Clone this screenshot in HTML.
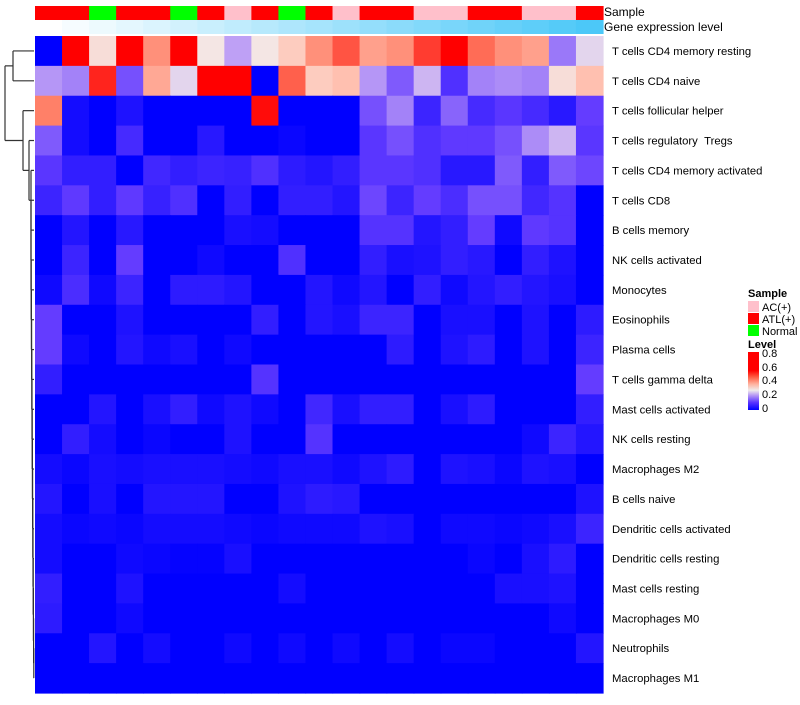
<!DOCTYPE html>
<html><head><meta charset="utf-8"><style>
body{margin:0;background:#fff;font-family:"Liberation Sans",sans-serif}
svg text{font-family:"Liberation Sans",sans-serif}
</style></head><body>
<svg id="chart" width="800" height="700" viewBox="0 0 800 700" xmlns="http://www.w3.org/2000/svg">
<g id="dendro" stroke="#333" stroke-width="1.2" fill="none"></g>
<g id="cells"></g>
<g id="annot"></g>
<g id="labels" font-size="11.3" fill="#000"></g>
<text x="604" y="16" font-size="12">Sample</text>
<text x="604" y="31" font-size="12">Gene expression level</text>
<g font-size="11">
<text x="748" y="297" font-weight="bold">Sample</text>
<rect x="748" y="301" width="11" height="11" fill="#FFC0CB"/>
<text x="762" y="311">AC(+)</text>
<rect x="748" y="313" width="11" height="11" fill="#FF0000"/>
<text x="762" y="323">ATL(+)</text>
<rect x="748" y="325" width="11" height="11" fill="#00FF00"/>
<text x="762" y="335">Normal</text>
<text x="748" y="348" font-weight="bold">Level</text>
<defs><linearGradient id="lg" x1="0" y1="1" x2="0" y2="0">
<stop offset="0" stop-color="#0000FF"/><stop offset="0.13" stop-color="#5A34FF"/><stop offset="0.25" stop-color="#B496F5"/><stop offset="0.34" stop-color="#F0EBEB"/><stop offset="0.45" stop-color="#FFB09C"/><stop offset="0.57" stop-color="#FF5A40"/><stop offset="0.68" stop-color="#FF0000"/><stop offset="1" stop-color="#FF0000"/>
</linearGradient></defs>
<rect x="748" y="352" width="11" height="58" fill="url(#lg)"/>
<text x="762" y="357">0.8</text>
<text x="762" y="371">0.6</text>
<text x="762" y="384">0.4</text>
<text x="762" y="398">0.2</text>
<text x="762" y="412">0</text>
</g>
</svg>
<script>
const rowNames=["T cells CD4 memory resting","T cells CD4 naive","T cells follicular helper","T cells regulatory\u00a0\u00a0Tregs","T cells CD4 memory activated","T cells CD8","B cells memory","NK cells activated","Monocytes","Eosinophils","Plasma cells","T cells gamma delta","Mast cells activated","NK cells resting","Macrophages M2","B cells naive","Dendritic cells activated","Dendritic cells resting","Mast cells resting","Macrophages M0","Neutrophils","Macrophages M1"];
const sampleGroups=["ATL","ATL","Normal","ATL","ATL","Normal","ATL","AC","ATL","Normal","ATL","AC","ATL","ATL","AC","AC","ATL","ATL","AC","AC","ATL"];
const geneLevel=[0,1,2,3,4,5,6,7,8,9,10,11,12,13,14,15,16,17,18,19,20];
const r1=[0,0.6,0.3,0.6,0.42,0.6,0.28,0.2,0.28,0.34,0.42,0.48,0.40,0.42,0.5,0.6,0.46,0.42,0.40,0.16,0.25];
const r2=[0.19,0.17,0.52,0.12,0.39,0.25,0.6,0.6,0,0.47,0.34,0.36,0.19,0.13,0.22,0.08,0.17,0.18,0.17,0.3,0.36];
const r3=[0.44,0.02,0,0.03,0,0,0,0,0.54,0,0,0,0.12,0.17,0.06,0.14,0.07,0.09,0.07,0.04,0.1];
const r4=[0.13,0.02,0,0.07,0,0,0.04,0,0,0.01,0,0,0.09,0.12,0.08,0.095,0.095,0.12,0.18,0.22,0.09];
const r5=[0.09,0.05,0.05,0,0.065,0.05,0.06,0.055,0.08,0.045,0.035,0.05,0.09,0.09,0.08,0.04,0.04,0.13,0.05,0.13,0.11];
const r6=[0.06,0.095,0.05,0.095,0.055,0.08,0,0.05,0,0.05,0.05,0.035,0.11,0.06,0.1,0.075,0.12,0.12,0.065,0.085,0];
const r7=[0,0.035,0,0.04,0,0,0,0.025,0.02,0,0,0,0.085,0.085,0.035,0.05,0.1,0.015,0.095,0.085,0];
const r8=[0,0.06,0,0.1,0,0,0.015,0,0,0.08,0,0,0.05,0.025,0.03,0.05,0.04,0,0.05,0.03,0];
const r9=[0.015,0.075,0.015,0.06,0,0.045,0.045,0.035,0,0,0.035,0.015,0.035,0,0.05,0.015,0.035,0.05,0.035,0.025,0];
const r10=[0.1,0,0,0.03,0,0,0,0,0.05,0,0.035,0.025,0.06,0.06,0,0.025,0.025,0,0.03,0,0.045];
const r11=[0.1,0.015,0,0.035,0.015,0.025,0,0.015,0,0,0,0,0,0.045,0,0.03,0.045,0,0.03,0,0.06];
const r12=[0.05,0,0,0,0,0,0,0,0.085,0,0,0,0,0,0,0,0,0,0,0,0.1];
const r13=[0,0,0.035,0,0.025,0.05,0.015,0.03,0.015,0,0.065,0.025,0.05,0.05,0,0.025,0.045,0,0,0,0.05];
const r14=[0,0.05,0.02,0,0.01,0,0,0.03,0,0,0.085,0,0,0,0,0,0,0,0.015,0.06,0.035];
const r15=[0.02,0.01,0.025,0.02,0.025,0.025,0.025,0.02,0.015,0.025,0.025,0.015,0.03,0.045,0,0.03,0.025,0.01,0.03,0.025,0];
const r16=[0.035,0,0.025,0,0.035,0.035,0.035,0,0,0.03,0.045,0.04,0,0,0,0,0,0,0,0,0.03];
const r17=[0.02,0.01,0.015,0.01,0.02,0.02,0.02,0.015,0.01,0.015,0.015,0.015,0.03,0.025,0,0.015,0.015,0.01,0.015,0.025,0.06];
const r18=[0.02,0,0,0.015,0.01,0.005,0.005,0.025,0,0,0,0,0,0,0,0,0.01,0,0.025,0.045,0];
const r19=[0.05,0,0,0.03,0,0,0,0,0,0.02,0,0,0,0,0,0,0,0.025,0.025,0.03,0];
const r20=[0.045,0,0,0.015,0,0,0,0,0,0,0,0,0,0,0,0,0,0,0,0.015,0];
const r21=[0,0,0.035,0,0.02,0,0,0.015,0,0.015,0,0.015,0,0.02,0,0.01,0.01,0,0,0,0.035];
const r22=[0,0,0,0,0,0,0,0,0,0,0,0,0,0,0,0,0,0,0,0,0];
const values=[r1,r2,r3,r4,r5,r6,r7,r8,r9,r10,r11,r12,r13,r14,r15,r16,r17,r18,r19,r20,r21,r22];

const NS="http://www.w3.org/2000/svg";
const X0=35,X1=603,Y0=36,Y1=693;
const nc=sampleGroups.length,nr=rowNames.length;
const cw=(X1-X0)/nc,rh=(Y1-Y0)/nr;
const xPos=i=>X0+i*cw, yPos=j=>Y0+j*rh;
const stops=[[0,[0,0,255]],[0.1,[100,60,255]],[0.2,[190,160,245]],[0.27,[242,234,234]],[0.35,[255,200,185]],[0.45,[255,120,95]],[0.55,[255,0,0]]];
function colorOf(v){
  if(v<=0)return "rgb(0,0,255)";
  for(let k=1;k<stops.length;k++){
    if(v<=stops[k][0]){const a=stops[k-1],b=stops[k],t=(v-a[0])/(b[0]-a[0]);
      const c=a[1].map((x,i)=>Math.round(x+(b[1][i]-x)*t));return `rgb(${c})`;}
  }
  return "rgb(255,0,0)";
}
const cells=document.getElementById('cells');
values.forEach((row,j)=>row.forEach((v,i)=>{
  const r=document.createElementNS(NS,'rect');
  r.setAttribute('x',xPos(i));r.setAttribute('y',yPos(j));
  r.setAttribute('width',cw+0.6);r.setAttribute('height',rh+0.6);
  r.setAttribute('fill',colorOf(v));
  
  
  cells.appendChild(r);
}));
const annot=document.getElementById('annot');
const gcol={ATL:"#FF0000",AC:"#FFC0CB",Normal:"#00FF00"};
const gmax=Math.max(...geneLevel);
sampleGroups.forEach((g,i)=>{
  const r=document.createElementNS(NS,'rect');
  r.setAttribute('x',xPos(i));r.setAttribute('y',6);r.setAttribute('width',cw+0.6);r.setAttribute('height',14);
  r.setAttribute('fill',gcol[g]);
  
  
  annot.appendChild(r);
  const t=geneLevel[i]/gmax;
  const c=[255+(76-255)*t,255+(200-255)*t,255+(248-255)*t].map(Math.round);
  const q=document.createElementNS(NS,'rect');
  q.setAttribute('x',xPos(i));q.setAttribute('y',20);q.setAttribute('width',cw+0.6);q.setAttribute('height',14);
  q.setAttribute('fill',`rgb(${c})`);
  
  
  annot.appendChild(q);
});
const labels=document.getElementById('labels');
rowNames.forEach((n,j)=>{
  const t=document.createElementNS(NS,'text');
  t.setAttribute('x',612);t.setAttribute('y',yPos(j)+rh/2+4);
  t.textContent=n;
  
  
  labels.appendChild(t);
});
const dg=document.getElementById('dendro');
function seg(x1,y1,x2,y2){const l=document.createElementNS(NS,'line');
  l.setAttribute('x1',x1);l.setAttribute('y1',y1);l.setAttribute('x2',x2);l.setAttribute('y2',y2);
  
  
  dg.appendChild(l);}
const cy=j=>yPos(j)+rh/2;
seg(34,cy(0),13,cy(0));seg(34,cy(1),13,cy(1));seg(13,cy(0),13,cy(1));
const ytop=(cy(0)+cy(1))/2;
let cur=cy(21),cx=34;
for(let j=20;j>=4;j--){
  const nx=Math.max(31,34-(21-j)*0.2);
  seg(34,cy(j),nx,cy(j));seg(cx,cur,nx,cur);seg(nx,cy(j),nx,cur);
  cur=(cy(j)+cur)/2;cx=nx;
}
seg(34,cy(3),29,cy(3));seg(cx,cur,29,cur);seg(29,cy(3),29,cur);
let ylow=(cy(3)+cur)/2;
seg(34,cy(2),23,cy(2));seg(29,ylow,23,ylow);seg(23,cy(2),23,ylow);
ylow=(cy(2)+ylow)/2;
seg(13,ytop,5,ytop);seg(23,ylow,5,ylow);seg(5,ytop,5,ylow);
</script>
</body></html>
